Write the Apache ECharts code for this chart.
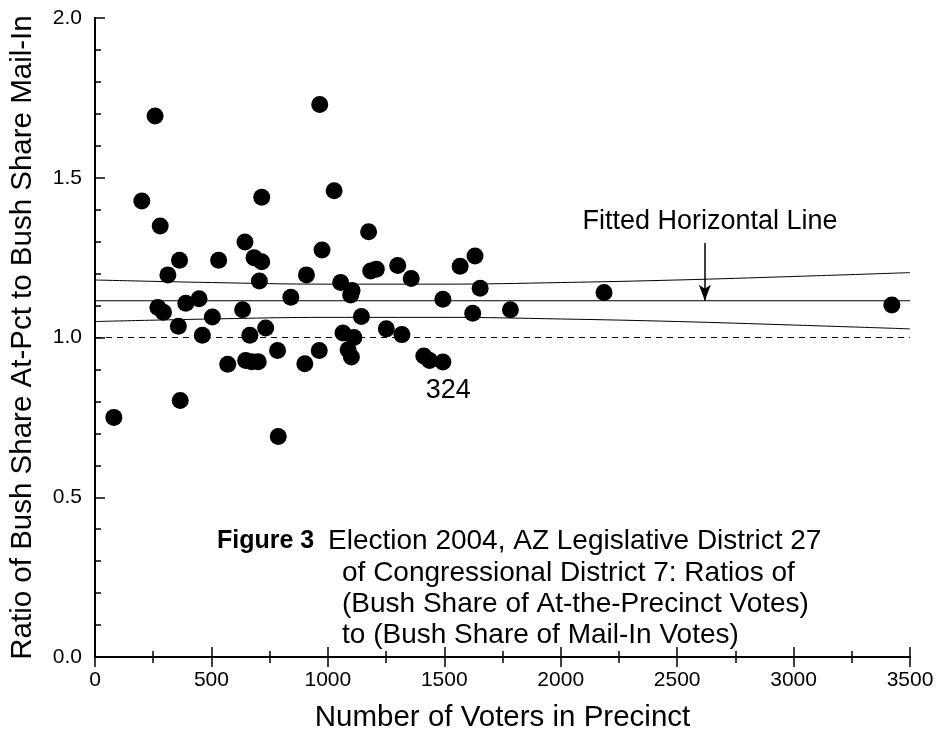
<!DOCTYPE html>
<html>
<head>
<meta charset="utf-8">
<script src="https://cdn.jsdelivr.net/npm/echarts@6/dist/echarts.min.js"></script>
<style>
html,body{margin:0;padding:0;background:#fff;}
#chart{width:937px;height:738px;}
</style>
</head>
<body>
<div id="chart"></div>
<script>
// ---- data ----
const voters = [81,258,965,201,716,1027,280,1175,644,975,363,531,683,716,313,908,1184,1208,1300,706,1055,1104,1098,841,447,390,270,294,634,1144,504,358,733,1251,461,665,1065,1112,784,963,1087,1101,570,647,673,701,901,366,787,1358,1318,1494,1412,1437,1494,1568,1632,1654,1622,1784,2186,3422];
const ratios = [0.75,1.693,1.729,1.427,1.439,1.459,1.349,1.331,1.299,1.274,1.242,1.242,1.250,1.237,1.196,1.196,1.208,1.214,1.225,1.177,1.172,1.147,1.133,1.126,1.121,1.107,1.094,1.079,1.087,1.066,1.064,1.035,1.030,1.027,1.007,1.007,1.014,1.000,0.959,0.959,0.962,0.939,0.916,0.928,0.924,0.924,0.918,0.803,0.690,1.185,1.009,1.120,0.942,0.928,0.923,1.223,1.255,1.154,1.076,1.087,1.141,1.102];
const bandX = [0,500,1000,1500,2000,2500,3000,3500];
const bandUpper = [1.180,1.172,1.167,1.167,1.172,1.180,1.191,1.203];
const bandLower = [1.050,1.058,1.063,1.063,1.058,1.050,1.039,1.027];
const fittedLevel = 1.115;
const referenceLevel = 1.0;
const xRange = [0, 3500];
const xTickStep = 500;
const yRange = [0, 2];
const yTickStep = 0.5;
const arrowX = 2619, arrowTop = 1.296;
const fittedLabel = {text: 'Fitted Horizontal Line', x: 2641, y: 1.362};
const pointLabel = {text: '324', x: 1517, y: 0.833};
const captionLines = [
  'of Congressional District 7: Ratios of',
  '(Bush Share of At-the-Precinct Votes)',
  'to (Bush Share of Mail-In Votes)'
];
const captionHead = 'Figure 3';
const captionFirst = 'Election 2004, AZ Legislative District 27';
const xName = 'Number of Voters in Precinct';
const yName = 'Ratio of Bush Share At-Pct to Bush Share Mail-In';

const FONT = '"Liberation Sans", Arial, Helvetica, sans-serif';
const chart = echarts.init(document.getElementById('chart'));

const axisLine = {show: true, lineStyle: {color: '#000', width: 2}};
const tickStyle = {color: '#000', width: 1.5};
const option = {
  backgroundColor: '#fff',
  animation: false,
  grid: {left: 93, right: 27, top: 18, bottom: 77},
  xAxis: [{
    type: 'value', min: xRange[0], max: xRange[1], interval: xTickStep,
    position: 'bottom',
    axisLine: axisLine,
    axisTick: {inside: true, length: 10, lineStyle: tickStyle},
    minorTick: {show: true, splitNumber: 2, length: 6, lineStyle: tickStyle},
    splitLine: {show: false},
    axisLabel: {color: '#000', fontSize: 21, fontFamily: FONT, margin: 13,
      formatter: v => String(v)},
    name: xName, nameLocation: 'middle', nameGap: 46,
    nameTextStyle: {color: '#000', fontSize: 29.5, fontFamily: FONT}
  }, {
    type: 'value', min: xRange[0], max: xRange[1], interval: xTickStep,
    position: 'top',
    axisLine: axisLine,
    axisTick: {inside: true, length: 10, lineStyle: tickStyle},
    minorTick: {show: true, splitNumber: 2, length: 6, lineStyle: tickStyle},
    splitLine: {show: false},
    axisLabel: {show: false}
  }],
  yAxis: [{
    type: 'value', min: yRange[0], max: yRange[1], interval: yTickStep,
    position: 'left',
    axisLine: axisLine,
    axisTick: {inside: true, length: 10, lineStyle: tickStyle},
    minorTick: {show: true, splitNumber: 5, length: 6, lineStyle: tickStyle},
    splitLine: {show: false},
    axisLabel: {color: '#000', fontSize: 21, fontFamily: FONT, margin: 13,
      formatter: v => v.toFixed(1)},
    name: yName, nameLocation: 'middle', nameGap: 57,
    nameTextStyle: {color: '#000', fontSize: 29.5, fontFamily: FONT}
  }, {
    type: 'value', min: yRange[0], max: yRange[1], interval: yTickStep,
    position: 'right',
    axisLine: axisLine,
    axisTick: {inside: false, length: 5, lineStyle: tickStyle},
    minorTick: {show: true, splitNumber: 5, length: 5, lineStyle: tickStyle},
    splitLine: {show: false},
    axisLabel: {show: false}
  }],
  series: [
    {type: 'line', smooth: 0.4, showSymbol: false, silent: true,
      data: bandX.map((x, i) => [x, bandUpper[i]]),
      lineStyle: {color: '#000', width: 1}},
    {type: 'line', smooth: 0.4, showSymbol: false, silent: true,
      data: bandX.map((x, i) => [x, bandLower[i]]),
      lineStyle: {color: '#000', width: 1}},
    {type: 'line', showSymbol: false, silent: true,
      data: [[xRange[0], fittedLevel], [xRange[1], fittedLevel]],
      lineStyle: {color: '#000', width: 1},
      markLine: {
        silent: true, symbol: ['none', 'arrow'], symbolSize: [9, 16],
        label: {show: false},
        lineStyle: {color: '#000', width: 1.5, type: 'solid'},
        data: [[{coord: [arrowX, arrowTop]}, {coord: [arrowX, fittedLevel]}]]
      }},
    {type: 'line', showSymbol: false, silent: true,
      data: [[xRange[0], referenceLevel], [xRange[1], referenceLevel]],
      lineStyle: {color: '#000', width: 1.2, type: [6, 5]}},
    {type: 'scatter', z: 5, symbol: 'circle', symbolSize: 17,
      itemStyle: {color: '#000', opacity: 1},
      data: voters.map((x, i) => [x, ratios[i]])},
    {type: 'scatter', z: 6, symbolSize: 0, silent: true,
      itemStyle: {color: '#000', opacity: 1},
      data: [[pointLabel.x, pointLabel.y, pointLabel.text], [fittedLabel.x, fittedLabel.y, fittedLabel.text]],
      label: {show: true, position: 'inside', color: '#000', opacity: 1, textBorderWidth: 0,
        fontSize: 27, fontFamily: FONT, formatter: p => p.data[2]}}
  ],
  graphic: [
    {type: 'text', left: 217, top: 529, style: {text: captionHead, font: 'bold 25px ' + FONT, fill: '#000'}},
    {type: 'text', left: 328, top: 527, style: {text: captionFirst, font: '28px ' + FONT, fill: '#000'}},
    {type: 'text', left: 342, top: 558, style: {text: captionLines.join('\n'), font: '28px ' + FONT, fill: '#000', lineHeight: 31}}
  ]
};
chart.setOption(option);
</script>
</body>
</html>
